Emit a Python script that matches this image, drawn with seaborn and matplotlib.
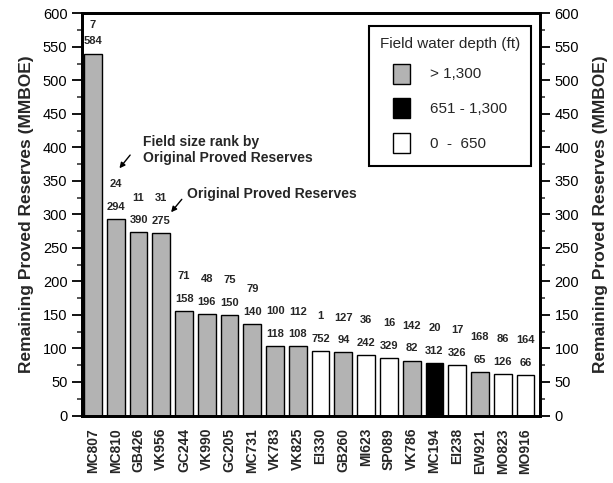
import matplotlib
matplotlib.use("Agg")
import matplotlib.pyplot as plt
from matplotlib.patches import Patch, Rectangle
from matplotlib.legend_handler import HandlerPatch
from matplotlib.ticker import MultipleLocator
import seaborn as sns
import pandas as pd

fields = ["MC807", "MC810", "GB426", "VK956", "GC244", "VK990", "GC205", "MC731",
          "VK783", "VK825", "EI330", "GB260", "MI623", "SP089", "VK786", "MC194",
          "EI238", "EW921", "MO823", "MO916"]
remaining = [540, 293, 273, 272, 156, 151, 150, 137, 104, 103, 96, 94, 90, 86, 82,
             78, 75, 65, 62, 61]
original = [584, 294, 390, 275, 158, 196, 150, 140, 118, 108, 752, 94, 242, 329, 82,
            312, 326, 65, 126, 66]
rank = [7, 24, 11, 31, 71, 48, 75, 79, 100, 112, 1, 127, 36, 16, 142, 20, 17, 168,
        86, 164]
depth_classes = ["> 1,300", "651 - 1,300", "0  -  650"]
depth = ["> 1,300"] * 10 + ["0  -  650", "> 1,300", "0  -  650", "0  -  650",
         "> 1,300", "651 - 1,300", "0  -  650", "> 1,300", "0  -  650", "0  -  650"]
depth_colors = ["#b3b3b3", "#000000", "#ffffff"]

sns.set_style("ticks")
plt.rcParams["font.family"] = ["Liberation Sans", "DejaVu Sans"]

df = pd.DataFrame({"field": fields, "remaining": remaining, "depth": depth})
palette = dict(zip(depth_classes, depth_colors))

fig = plt.figure(figsize=(6.13, 4.83), dpi=100)
ax = fig.add_axes([82 / 613, 1 - 415.5 / 483, (540 - 82) / 613, (415.5 - 13.3) / 483])

sns.barplot(data=df, x="field", y="remaining", hue="depth", order=fields,
            hue_order=depth_classes, palette=palette, dodge=False, width=0.78,
            saturation=1, edgecolor="black", linewidth=1, legend=False, ax=ax)

ax.set_xlim(-0.485, 19.64)
ax.set_ylim(0, 600)
ax.yaxis.set_major_locator(MultipleLocator(50))
ax.yaxis.set_minor_locator(MultipleLocator(25))
ax.set_xlabel("")
ylabel = "Remaining Proved Reserves (MMBOE)"
ax.set_ylabel(ylabel, fontsize=12.5, fontweight="bold", labelpad=6)

for s in ax.spines.values():
    s.set_visible(True)
    s.set_linewidth(2)
    s.set_color("black")

ax.tick_params(axis="y", which="major", length=7, width=1.3, labelsize=10.5,
               direction="out", colors="black")
ax.tick_params(axis="y", which="minor", length=3.6, width=1.1, direction="out")
ax.tick_params(axis="x", length=0, pad=9)
for lab in ax.get_xticklabels():
    lab.set_rotation(90)
    lab.set_fontweight("bold")
    lab.set_fontsize(10)

ax2 = ax.twinx()
ax2.set_ylim(0, 600)
ax2.yaxis.set_major_locator(MultipleLocator(50))
ax2.yaxis.set_minor_locator(MultipleLocator(25))
ax2.tick_params(axis="y", which="major", length=7, width=1.3, labelsize=10.5,
                direction="out", colors="black")
ax2.tick_params(axis="y", which="minor", length=3.6, width=1.1, direction="out")
ax2.set_ylabel(ylabel, fontsize=12.5, fontweight="bold", rotation=90, labelpad=10)
for s in ax2.spines.values():
    s.set_linewidth(2)
    s.set_color("black")

for i, (r, o, k) in enumerate(zip(remaining, original, rank)):
    ax.text(i, r + 18, str(o), ha="center", va="center", fontsize=8,
            fontweight="bold")
    ax.text(i, min(r + 52, 582), str(k), ha="center", va="center", fontsize=8,
            fontweight="bold")

ax.text(2.21, 396, "Field size rank by\nOriginal Proved Reserves", ha="left",
        va="center", fontsize=10, fontweight="bold")
ax.annotate("", xy=(1.16, 368.8), xytext=(1.63, 388.5),
            arrowprops=dict(arrowstyle="-|>", lw=1, color="black",
                            mutation_scale=8, shrinkA=0, shrinkB=0))
ax.text(4.12, 330.4, "Original Proved Reserves", ha="left", va="center",
        fontsize=10, fontweight="bold")
ax.annotate("", xy=(3.43, 303.2), xytext=(3.90, 322.5),
            arrowprops=dict(arrowstyle="-|>", lw=1, color="black",
                            mutation_scale=8, shrinkA=0, shrinkB=0))


def small_box(legend, orig_handle, xdescent, ydescent, width, height, fontsize):
    h = 14.4
    return Rectangle((-xdescent, -ydescent + (height - h) / 2), width, h)


handles = [Patch(facecolor=c, edgecolor="black", linewidth=1, label=l)
           for l, c in zip(depth_classes, depth_colors)]
leg = ax2.legend(handles=handles, title="Field water depth (ft)", loc="upper left",
                 bbox_to_anchor=(369 / 613, 1 - 26 / 483), bbox_transform=fig.transFigure,
                 fontsize=11, title_fontsize=11, frameon=True, fancybox=False,
                 handlelength=1.1, handleheight=2.08, handletextpad=1.3,
                 labelspacing=0.68, borderpad=0.72, borderaxespad=0,
                 handler_map={Patch: HandlerPatch(patch_func=small_box)})
leg.get_frame().set_edgecolor("black")
leg.get_frame().set_linewidth(1.5)
leg.get_frame().set_alpha(1)

fig.savefig("out.png", dpi=100)
